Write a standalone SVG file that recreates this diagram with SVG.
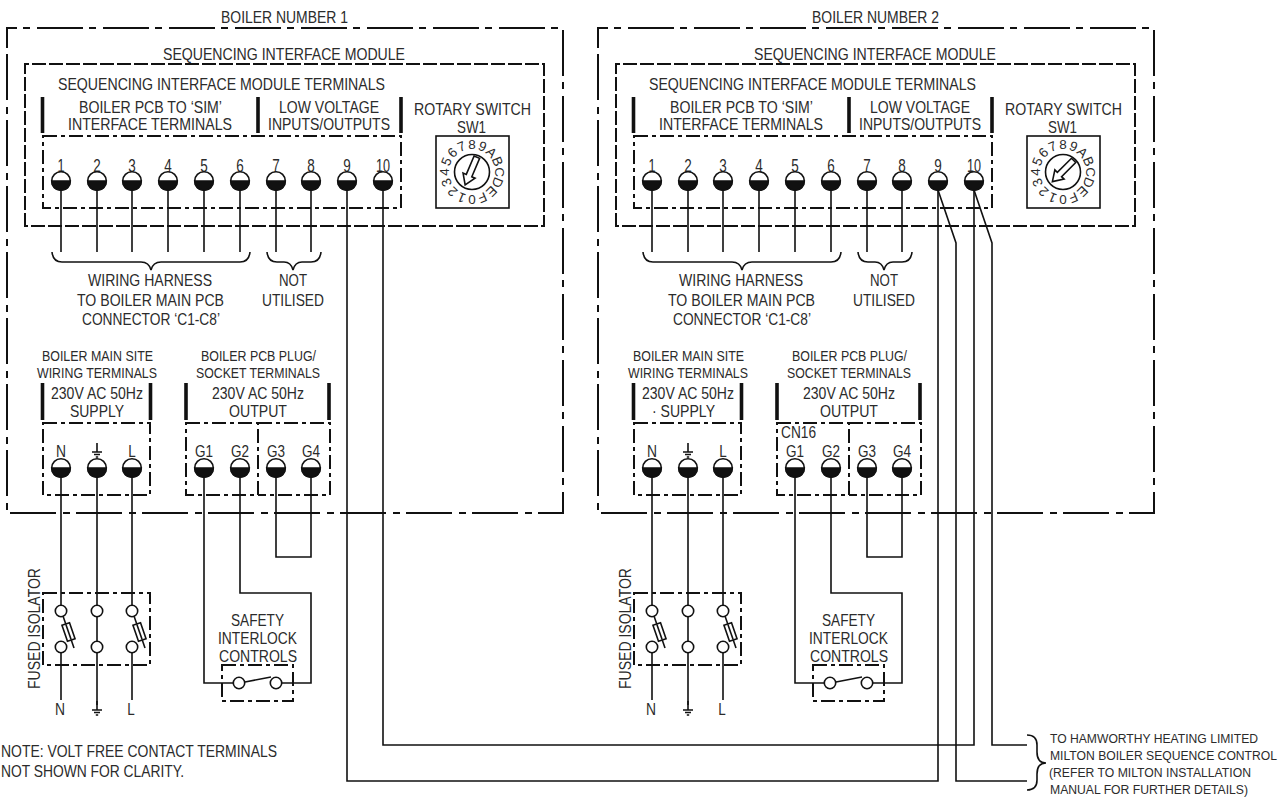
<svg xmlns="http://www.w3.org/2000/svg" width="1288" height="797" viewBox="0 0 1288 797">
<style>
text{font-family:"Liberation Sans",Arial,sans-serif;font-size:16.5px;fill:#2b2b2b}
.s{font-size:14.5px}.xs{font-size:12.5px}.d{font-size:13.5px}.n{font-size:16.5px}.u{font-size:18px}
.m{text-anchor:middle}
path,line,rect,circle{fill:none;stroke:#111;stroke-width:1.6}
.o{stroke-width:2;stroke-dasharray:46 6 7 7;stroke-dashoffset:20}
.h{stroke-width:2;stroke-dasharray:14 3}
.b{stroke-width:2;stroke-dasharray:14 4 4 4}
.bar{stroke-width:3.6}
.w{fill:#fff}
.k{fill:#111;stroke:#111}
</style>
<defs>
<g id="t"><circle class="w" r="9.3"/><path class="k" d="M-9.3 0A9.3 9.3 0 0 0 9.3 0Z"/></g>
<path id="gnd" d="M0 -9V0M-5 0H5M-3 2.500H3M-1.200 5H1.200"/>
<g id="iso"><circle class="w" cx="0" cy="0" r="5.7"/><circle class="w" cx="0" cy="36" r="5.7"/></g>
<g id="fuse"><path d="M2 5L13 37"/><rect class="w" x="-4" y="-8.5" width="8" height="17" transform="translate(7.5 21) rotate(-19)"/><path d="M7.5 13L7.5 29" transform="rotate(-19 7.5 21)"/></g>
</defs>

<g id="boiler-1-outer"><path class="o" d="M7 44V28H563V513H7Z"/><text class="m" x="284.500" y="23" textLength="127" lengthAdjust="spacingAndGlyphs">BOILER NUMBER 1</text></g>
<g id="boiler-2-outer" transform="translate(591 0)"><path class="o" d="M7 44V28H563V513H7Z"/><text class="m" x="284.500" y="23" textLength="127" lengthAdjust="spacingAndGlyphs">BOILER NUMBER 2</text></g>

<g id="connectors">
<path d="M61 181V252M97 181V252M132 181V252M168 181V252M204 181V252M240 181V252M276 181V252M311 181V252"/>
<path d="M347 181V781H938V181"/>
<path d="M383 181V745H974V181"/>
<path d="M61 468V606M61 653V700M97 468V606M97 653V705M132 468V606M132 653V700"/>
<path d="M204 468V683H233.500M281.500 683H311V593H240V468"/>
<path d="M276 468V557H311V468"/>
<path d="M652 181V252M688 181V252M723 181V252M759 181V252M795 181V252M831 181V252M867 181V252M902 181V252"/>
<path d="M938 190L956 243V781H1027"/>
<path d="M974 190L992 243V745H1027"/>
<path d="M652 468V606M652 653V700M688 468V606M688 653V705M723 468V606M723 653V700"/>
<path d="M795 468V683H824.500M872.500 683H902V593H831V468"/>
<path d="M867 468V557H902V468"/>
<path d="M1027 735Q1037 735 1037 745V752Q1037 763 1046 763Q1037 763 1037 774V780Q1037 790 1027 790"/>
</g>

<g id="boiler-1-module"><path class="h" d="M25 227V64H544V226H25"/><text x="163" y="60" textLength="242" lengthAdjust="spacingAndGlyphs">SEQUENCING INTERFACE MODULE</text></g>
<g id="boiler-2-module" transform="translate(591 0)"><path class="h" d="M25 227V64H544V226H25"/><text x="163" y="60" textLength="242" lengthAdjust="spacingAndGlyphs">SEQUENCING INTERFACE MODULE</text></g>

<g id="boiler-1-terminals">
<text x="58" y="90" textLength="327" lengthAdjust="spacingAndGlyphs">SEQUENCING INTERFACE MODULE TERMINALS</text>
<text x="79" y="113" textLength="143" lengthAdjust="spacingAndGlyphs">BOILER PCB TO ‘SIM’</text>
<text x="68" y="130" textLength="164" lengthAdjust="spacingAndGlyphs">INTERFACE TERMINALS</text>
<text x="279" y="113" textLength="100" lengthAdjust="spacingAndGlyphs">LOW VOLTAGE</text>
<text x="268" y="130" textLength="122" lengthAdjust="spacingAndGlyphs">INPUTS/OUTPUTS</text>
<path class="bar" d="M42.500 97V133M258 97V133M401 97V133"/>
<path class="b" d="M43 136H401V208H43Z"/>
<text class="u m" x="61" y="172" textLength="7" lengthAdjust="spacingAndGlyphs">1</text><text class="u m" x="97" y="172" textLength="7.500" lengthAdjust="spacingAndGlyphs">2</text><text class="u m" x="132" y="172" textLength="7.500" lengthAdjust="spacingAndGlyphs">3</text><text class="u m" x="168" y="172" textLength="7.500" lengthAdjust="spacingAndGlyphs">4</text><text class="u m" x="204" y="172" textLength="7.500" lengthAdjust="spacingAndGlyphs">5</text><text class="u m" x="240" y="172" textLength="7.500" lengthAdjust="spacingAndGlyphs">6</text><text class="u m" x="276" y="172" textLength="7.500" lengthAdjust="spacingAndGlyphs">7</text><text class="u m" x="311" y="172" textLength="7.500" lengthAdjust="spacingAndGlyphs">8</text><text class="u m" x="347" y="172" textLength="7.500" lengthAdjust="spacingAndGlyphs">9</text><text class="u m" x="383" y="172" textLength="14" lengthAdjust="spacingAndGlyphs">10</text>
<use href="#t" x="61" y="181"/><use href="#t" x="97" y="181"/><use href="#t" x="132" y="181"/><use href="#t" x="168" y="181"/><use href="#t" x="204" y="181"/><use href="#t" x="240" y="181"/><use href="#t" x="276" y="181"/><use href="#t" x="311" y="181"/><use href="#t" x="347" y="181"/><use href="#t" x="383" y="181"/>
</g>
<g id="boiler-2-terminals" transform="translate(591 0)">
<text x="58" y="90" textLength="327" lengthAdjust="spacingAndGlyphs">SEQUENCING INTERFACE MODULE TERMINALS</text>
<text x="79" y="113" textLength="143" lengthAdjust="spacingAndGlyphs">BOILER PCB TO ‘SIM’</text>
<text x="68" y="130" textLength="164" lengthAdjust="spacingAndGlyphs">INTERFACE TERMINALS</text>
<text x="279" y="113" textLength="100" lengthAdjust="spacingAndGlyphs">LOW VOLTAGE</text>
<text x="268" y="130" textLength="122" lengthAdjust="spacingAndGlyphs">INPUTS/OUTPUTS</text>
<path class="bar" d="M42.500 97V133M258 97V133M401 97V133"/>
<path class="b" d="M43 136H401V208H43Z"/>
<text class="u m" x="61" y="172" textLength="7" lengthAdjust="spacingAndGlyphs">1</text><text class="u m" x="97" y="172" textLength="7.500" lengthAdjust="spacingAndGlyphs">2</text><text class="u m" x="132" y="172" textLength="7.500" lengthAdjust="spacingAndGlyphs">3</text><text class="u m" x="168" y="172" textLength="7.500" lengthAdjust="spacingAndGlyphs">4</text><text class="u m" x="204" y="172" textLength="7.500" lengthAdjust="spacingAndGlyphs">5</text><text class="u m" x="240" y="172" textLength="7.500" lengthAdjust="spacingAndGlyphs">6</text><text class="u m" x="276" y="172" textLength="7.500" lengthAdjust="spacingAndGlyphs">7</text><text class="u m" x="311" y="172" textLength="7.500" lengthAdjust="spacingAndGlyphs">8</text><text class="u m" x="347" y="172" textLength="7.500" lengthAdjust="spacingAndGlyphs">9</text><text class="u m" x="383" y="172" textLength="14" lengthAdjust="spacingAndGlyphs">10</text>
<use href="#t" x="61" y="181"/><use href="#t" x="97" y="181"/><use href="#t" x="132" y="181"/><use href="#t" x="168" y="181"/><use href="#t" x="204" y="181"/><use href="#t" x="240" y="181"/><use href="#t" x="276" y="181"/><use href="#t" x="311" y="181"/><use href="#t" x="347" y="181"/><use href="#t" x="383" y="181"/>
</g>

<g id="boiler-1-rotary">
<text x="414" y="115" textLength="117" lengthAdjust="spacingAndGlyphs">ROTARY SWITCH</text>
<text x="457" y="133" textLength="29" lengthAdjust="spacingAndGlyphs">SW1</text>
<rect x="436" y="136" width="73" height="72"/>
<circle cx="472" cy="172" r="17.500"/>
<path d="M-3 -15H3V5H6.500L0 15L-6.500 5H-3Z" transform="translate(471 171) rotate(23)"/>
<g class="dial">
<text class="d m" x="472" y="149" transform="rotate(180 472 172)">0</text><text class="d m" x="472" y="149" transform="rotate(202.5 472 172)">1</text><text class="d m" x="472" y="149" transform="rotate(225 472 172)">2</text><text class="d m" x="472" y="149" transform="rotate(247.5 472 172)">3</text><text class="d m" x="472" y="149" transform="rotate(270 472 172)">4</text><text class="d m" x="472" y="149" transform="rotate(292.5 472 172)">5</text><text class="d m" x="472" y="149" transform="rotate(315 472 172)">6</text><text class="d m" x="472" y="149" transform="rotate(337.5 472 172)">7</text><text class="d m" x="472" y="149">8</text><text class="d m" x="472" y="149" transform="rotate(22.500 472 172)">9</text><text class="d m" x="472" y="149" transform="rotate(45 472 172)">A</text><text class="d m" x="472" y="149" transform="rotate(67.500 472 172)">B</text><text class="d m" x="472" y="149" transform="rotate(90 472 172)">C</text><text class="d m" x="472" y="149" transform="rotate(112.500 472 172)">D</text><text class="d m" x="472" y="149" transform="rotate(135 472 172)">E</text><text class="d m" x="472" y="149" transform="rotate(157.500 472 172)">F</text>
</g>
</g>
<g id="boiler-2-rotary" transform="translate(591 0)">
<text x="414" y="115" textLength="117" lengthAdjust="spacingAndGlyphs">ROTARY SWITCH</text>
<text x="457" y="133" textLength="29" lengthAdjust="spacingAndGlyphs">SW1</text>
<rect x="436" y="136" width="73" height="72"/>
<circle cx="472" cy="172" r="17.500"/>
<path d="M-3 -15H3V5H6.500L0 15L-6.500 5H-3Z" transform="translate(472 171) rotate(45)"/>
<g class="dial">
<text class="d m" x="472" y="149" transform="rotate(180 472 172)">0</text><text class="d m" x="472" y="149" transform="rotate(202.5 472 172)">1</text><text class="d m" x="472" y="149" transform="rotate(225 472 172)">2</text><text class="d m" x="472" y="149" transform="rotate(247.5 472 172)">3</text><text class="d m" x="472" y="149" transform="rotate(270 472 172)">4</text><text class="d m" x="472" y="149" transform="rotate(292.5 472 172)">5</text><text class="d m" x="472" y="149" transform="rotate(315 472 172)">6</text><text class="d m" x="472" y="149" transform="rotate(337.5 472 172)">7</text><text class="d m" x="472" y="149">8</text><text class="d m" x="472" y="149" transform="rotate(22.500 472 172)">9</text><text class="d m" x="472" y="149" transform="rotate(45 472 172)">A</text><text class="d m" x="472" y="149" transform="rotate(67.500 472 172)">B</text><text class="d m" x="472" y="149" transform="rotate(90 472 172)">C</text><text class="d m" x="472" y="149" transform="rotate(112.500 472 172)">D</text><text class="d m" x="472" y="149" transform="rotate(135 472 172)">E</text><text class="d m" x="472" y="149" transform="rotate(157.500 472 172)">F</text>
</g>
</g>

<g id="boiler-1-harness">
<path d="M52 252Q53 262 62 262H141Q149 262 151 270Q153 262 161 262H240Q249 262 250 252"/>
<path d="M267 252Q268 262 277 262H284Q291 262 293 270Q295 262 302 262H311Q320 262 321 252"/>
<text x="88" y="286" textLength="124" lengthAdjust="spacingAndGlyphs">WIRING HARNESS</text>
<text x="77" y="306" textLength="147" lengthAdjust="spacingAndGlyphs">TO BOILER MAIN PCB</text>
<text x="82" y="325" textLength="138" lengthAdjust="spacingAndGlyphs">CONNECTOR ‘C1-C8’</text>
<text x="279" y="286" textLength="28" lengthAdjust="spacingAndGlyphs">NOT</text>
<text x="262" y="306" textLength="62" lengthAdjust="spacingAndGlyphs">UTILISED</text>
</g>
<g id="boiler-2-harness" transform="translate(591 0)">
<path d="M52 252Q53 262 62 262H141Q149 262 151 270Q153 262 161 262H240Q249 262 250 252"/>
<path d="M267 252Q268 262 277 262H284Q291 262 293 270Q295 262 302 262H311Q320 262 321 252"/>
<text x="88" y="286" textLength="124" lengthAdjust="spacingAndGlyphs">WIRING HARNESS</text>
<text x="77" y="306" textLength="147" lengthAdjust="spacingAndGlyphs">TO BOILER MAIN PCB</text>
<text x="82" y="325" textLength="138" lengthAdjust="spacingAndGlyphs">CONNECTOR ‘C1-C8’</text>
<text x="279" y="286" textLength="28" lengthAdjust="spacingAndGlyphs">NOT</text>
<text x="262" y="306" textLength="62" lengthAdjust="spacingAndGlyphs">UTILISED</text>
</g>

<g id="boiler-1-supply">
<text class="s" x="42" y="361" textLength="111" lengthAdjust="spacingAndGlyphs">BOILER MAIN SITE</text>
<text class="s" x="37" y="378" textLength="120" lengthAdjust="spacingAndGlyphs">WIRING TERMINALS</text>
<text x="51" y="399" textLength="92" lengthAdjust="spacingAndGlyphs">230V AC 50Hz</text>
<text x="70" y="417" textLength="54" lengthAdjust="spacingAndGlyphs">SUPPLY</text>
<path class="bar" d="M42.500 383V420M150.500 383V420"/>
<path class="b" d="M43 423H150V495H43Z"/>
<text class="n m" x="61" y="457" textLength="10" lengthAdjust="spacingAndGlyphs">N</text><use href="#gnd" x="97" y="452"/><text class="n m" x="132" y="457" textLength="7.500" lengthAdjust="spacingAndGlyphs">L</text>
<use href="#t" x="61" y="468"/><use href="#t" x="97" y="468"/><use href="#t" x="132" y="468"/>
</g>
<g id="boiler-2-supply" transform="translate(591 0)">
<text class="s" x="42" y="361" textLength="111" lengthAdjust="spacingAndGlyphs">BOILER MAIN SITE</text>
<text class="s" x="37" y="378" textLength="120" lengthAdjust="spacingAndGlyphs">WIRING TERMINALS</text>
<text x="51" y="399" textLength="92" lengthAdjust="spacingAndGlyphs">230V AC 50Hz</text>
<text x="61" y="417" textLength="63" lengthAdjust="spacingAndGlyphs">· SUPPLY</text>
<path class="bar" d="M42.500 383V420M150.500 383V420"/>
<path class="b" d="M43 423H150V495H43Z"/>
<text class="n m" x="61" y="457" textLength="10" lengthAdjust="spacingAndGlyphs">N</text><use href="#gnd" x="97" y="452"/><text class="n m" x="132" y="457" textLength="7.500" lengthAdjust="spacingAndGlyphs">L</text>
<use href="#t" x="61" y="468"/><use href="#t" x="97" y="468"/><use href="#t" x="132" y="468"/>
</g>

<g id="boiler-1-output">
<text class="s" x="201" y="361" textLength="115" lengthAdjust="spacingAndGlyphs">BOILER PCB PLUG/</text>
<text class="s" x="196" y="378" textLength="124" lengthAdjust="spacingAndGlyphs">SOCKET TERMINALS</text>
<text x="212" y="399" textLength="92" lengthAdjust="spacingAndGlyphs">230V AC 50Hz</text>
<text x="229" y="417" textLength="58" lengthAdjust="spacingAndGlyphs">OUTPUT</text>
<path class="bar" d="M186 383V420M329 383V420"/>
<path class="b" d="M186 423H258V495H186Z"/>
<path class="b" d="M258 423H330V495H258"/>
<text class="n m" x="204" y="457" textLength="18" lengthAdjust="spacingAndGlyphs">G1</text><text class="n m" x="240" y="457" textLength="18" lengthAdjust="spacingAndGlyphs">G2</text><text class="n m" x="276" y="457" textLength="18" lengthAdjust="spacingAndGlyphs">G3</text><text class="n m" x="311" y="457" textLength="18" lengthAdjust="spacingAndGlyphs">G4</text>
<use href="#t" x="204" y="468"/><use href="#t" x="240" y="468"/><use href="#t" x="276" y="468"/><use href="#t" x="311" y="468"/>
</g>
<g id="boiler-2-output" transform="translate(591 0)">
<text class="s" x="201" y="361" textLength="115" lengthAdjust="spacingAndGlyphs">BOILER PCB PLUG/</text>
<text class="s" x="196" y="378" textLength="124" lengthAdjust="spacingAndGlyphs">SOCKET TERMINALS</text>
<text x="212" y="399" textLength="92" lengthAdjust="spacingAndGlyphs">230V AC 50Hz</text>
<text x="229" y="417" textLength="58" lengthAdjust="spacingAndGlyphs">OUTPUT</text>
<path class="bar" d="M186 383V420M329 383V420"/>
<path class="b" d="M186 423H258V495H186Z"/>
<path class="b" d="M258 423H330V495H258"/>
<text x="190" y="438" textLength="35" lengthAdjust="spacingAndGlyphs">CN16</text>
<text class="n m" x="204" y="457" textLength="18" lengthAdjust="spacingAndGlyphs">G1</text><text class="n m" x="240" y="457" textLength="18" lengthAdjust="spacingAndGlyphs">G2</text><text class="n m" x="276" y="457" textLength="18" lengthAdjust="spacingAndGlyphs">G3</text><text class="n m" x="311" y="457" textLength="18" lengthAdjust="spacingAndGlyphs">G4</text>
<use href="#t" x="204" y="468"/><use href="#t" x="240" y="468"/><use href="#t" x="276" y="468"/><use href="#t" x="311" y="468"/>
</g>

<g id="boiler-1-isolator">
<path class="b" d="M43 593H150V665H43Z"/>
<use href="#iso" x="61" y="611"/><use href="#iso" x="97" y="611"/><use href="#iso" x="132" y="611"/>
<use href="#fuse" x="61" y="611"/><use href="#fuse" x="132" y="611"/>
<path d="M97 617V641"/>
<text transform="translate(40 689) rotate(-90)" x="0" y="0" textLength="121" lengthAdjust="spacingAndGlyphs">FUSED ISOLATOR</text>
<text class="n m" x="60" y="715" textLength="10" lengthAdjust="spacingAndGlyphs">N</text><use href="#gnd" x="97" y="710"/><text class="n m" x="131" y="715" textLength="7.500" lengthAdjust="spacingAndGlyphs">L</text>
</g>
<g id="boiler-2-isolator" transform="translate(591 0)">
<path class="b" d="M43 593H150V665H43Z"/>
<use href="#iso" x="61" y="611"/><use href="#iso" x="97" y="611"/><use href="#iso" x="132" y="611"/>
<use href="#fuse" x="61" y="611"/><use href="#fuse" x="132" y="611"/>
<path d="M97 617V641"/>
<text transform="translate(40 689) rotate(-90)" x="0" y="0" textLength="121" lengthAdjust="spacingAndGlyphs">FUSED ISOLATOR</text>
<text class="n m" x="60" y="715" textLength="10" lengthAdjust="spacingAndGlyphs">N</text><use href="#gnd" x="97" y="710"/><text class="n m" x="131" y="715" textLength="7.500" lengthAdjust="spacingAndGlyphs">L</text>
</g>

<g id="boiler-1-interlock">
<text x="231" y="626" textLength="53" lengthAdjust="spacingAndGlyphs">SAFETY</text>
<text x="218" y="644" textLength="79" lengthAdjust="spacingAndGlyphs">INTERLOCK</text>
<text x="219" y="662" textLength="78" lengthAdjust="spacingAndGlyphs">CONTROLS</text>
<path class="b" d="M222 665H293V701H222Z"/>
<circle class="w" cx="239" cy="683" r="5.700"/><circle class="w" cx="276" cy="683" r="5.700"/>
<path d="M245 682L271 677"/>
</g>
<g id="boiler-2-interlock" transform="translate(591 0)">
<text x="231" y="626" textLength="53" lengthAdjust="spacingAndGlyphs">SAFETY</text>
<text x="218" y="644" textLength="79" lengthAdjust="spacingAndGlyphs">INTERLOCK</text>
<text x="219" y="662" textLength="78" lengthAdjust="spacingAndGlyphs">CONTROLS</text>
<path class="b" d="M222 665H293V701H222Z"/>
<circle class="w" cx="239" cy="683" r="5.700"/><circle class="w" cx="276" cy="683" r="5.700"/>
<path d="M245 682L271 677"/>
</g>

<g id="note">
<text x="1" y="757" textLength="276" lengthAdjust="spacingAndGlyphs">NOTE: VOLT FREE CONTACT TERMINALS</text>
<text x="1" y="777" textLength="183" lengthAdjust="spacingAndGlyphs">NOT SHOWN FOR CLARITY.</text>
</g>
<g id="milton-note">
<text class="xs" x="1050" y="743" textLength="208" lengthAdjust="spacingAndGlyphs">TO HAMWORTHY HEATING LIMITED</text>
<text class="xs" x="1050" y="760" textLength="227" lengthAdjust="spacingAndGlyphs">MILTON BOILER SEQUENCE CONTROL</text>
<text class="xs" x="1049" y="777" textLength="202" lengthAdjust="spacingAndGlyphs">(REFER TO MILTON INSTALLATION</text>
<text class="xs" x="1050" y="794" textLength="198" lengthAdjust="spacingAndGlyphs">MANUAL FOR FURTHER DETAILS)</text>
</g>
</svg>
